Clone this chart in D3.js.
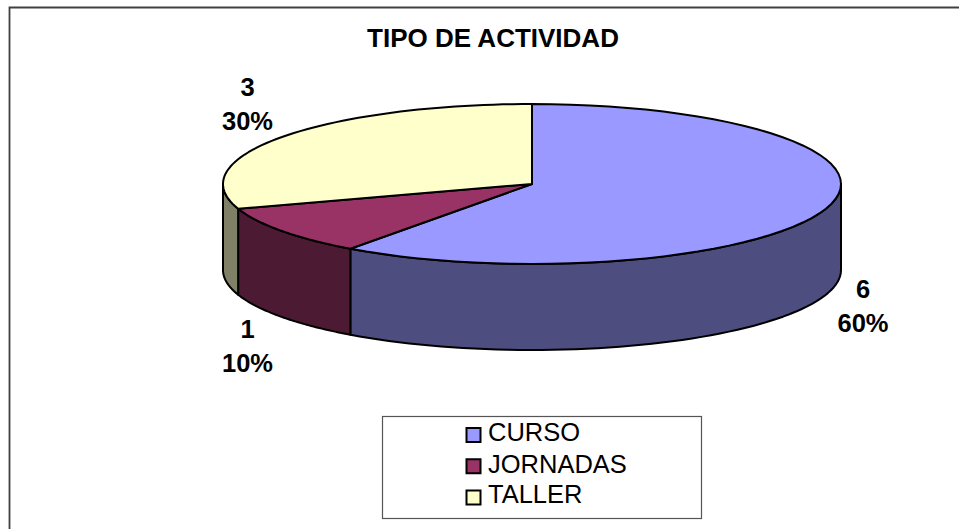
<!DOCTYPE html>
<html>
<head>
<meta charset="utf-8">
<script src="https://cdn.jsdelivr.net/npm/d3@7"></script>
<style>
  html, body { margin: 0; padding: 0; background: #fff; }
  svg { display: block; }
  text { font-family: "Liberation Sans", Arial, sans-serif; fill: #000; }
</style>
</head>
<body>
<div id="chart"></div>
<script>
const categories = ["CURSO", "JORNADAS", "TALLER"];
const values = [6, 1, 3];
const percents = ["60%", "10%", "30%"];
const topColors = ["#9999ff", "#993366", "#ffffcc"];
const sideColors = ["#4d4d80", "#4d1a33", "#808066"];

const width = 959;
const height = 529;
const cx = 532, cy = 184;
const rx = 309, ry = 80, depth = 86;

const svg = d3.select("#chart").append("svg")
  .attr("width", width)
  .attr("height", height);

const line = d3.line();

// frame: only left and top edges are inside the picture
svg.append("path")
  .attr("d", line([[9.5, height], [9.5, 7.5], [width, 7.5]]))
  .attr("fill", "none")
  .attr("stroke", "#404040")
  .attr("stroke-width", 1.8);

svg.append("text")
  .attr("x", 493).attr("y", 47)
  .attr("text-anchor", "middle")
  .attr("font-size", 26)
  .attr("font-weight", "bold")
  .text("TIPO DE ACTIVIDAD");

const arcs = d3.pie().sort(null).value(d => d)(values);

const px = a => cx + rx * Math.sin(a);
const py = a => cy - ry * Math.cos(a);

function arcPoints(a0, a1, dy) {
  return d3.range(0, 61).map(i => {
    const a = a0 + (a1 - a0) * i / 60;
    return [px(a), py(a) + dy];
  });
}

// side walls, only the front half of the disc shows
const pieG = svg.append("g").attr("stroke", "#000").attr("stroke-width", 2).attr("stroke-linejoin", "round");
arcs.forEach((d, i) => {
  const a0 = Math.max(d.startAngle, Math.PI / 2);
  const a1 = Math.min(d.endAngle, Math.PI * 1.5);
  if (a1 <= a0) return;
  const pts = arcPoints(a0, a1, 0).concat(arcPoints(a1, a0, depth));
  pieG.append("path")
    .attr("d", line(pts) + "Z")
    .attr("fill", sideColors[i]);
});

// top faces
arcs.forEach((d, i) => {
  const pts = [[cx, cy]].concat(arcPoints(d.startAngle, d.endAngle, 0));
  pieG.append("path")
    .attr("d", line(pts) + "Z")
    .attr("fill", topColors[i]);
});

// data labels
const labelX = [863, 247.5, 247.5];
const labelY = [298, 338, 96];
const labels = svg.append("g")
  .attr("text-anchor", "middle")
  .attr("font-size", 25.5)
  .attr("font-weight", "bold");
values.forEach((v, i) => {
  labels.append("text").attr("x", labelX[i]).attr("y", labelY[i]).text(v);
  labels.append("text").attr("x", labelX[i]).attr("y", labelY[i] + 34).text(percents[i]);
});

// legend
svg.append("rect")
  .attr("x", 382.5).attr("y", 416.5)
  .attr("width", 319).attr("height", 102)
  .attr("fill", "#fff")
  .attr("stroke", "#555")
  .attr("stroke-width", 1.2);

const legendY = d3.scalePoint().domain(categories).range([435, 497.5]);
const legendBase = [441, 473, 503];
const legend = svg.selectAll("g.legend-item").data(categories).enter().append("g")
  .attr("class", "legend-item");
legend.append("rect")
  .attr("x", 466.5).attr("y", d => legendY(d) - 7)
  .attr("width", 14).attr("height", 14)
  .attr("fill", (d, i) => topColors[i])
  .attr("stroke", "#000")
  .attr("stroke-width", 2);
legend.append("text")
  .attr("x", 488).attr("y", (d, i) => legendBase[i])
  .attr("font-size", 25.5)
  .text(d => d);
</script>
</body>
</html>
